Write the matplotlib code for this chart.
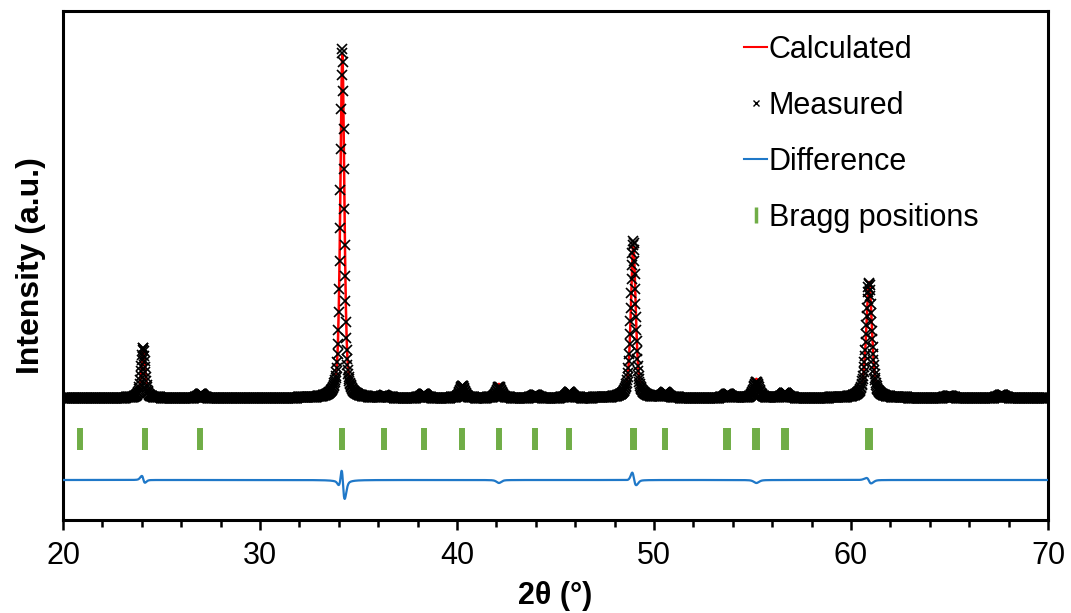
import numpy as np
import matplotlib
matplotlib.use("Agg")
import matplotlib.pyplot as plt
from matplotlib.lines import Line2D
from matplotlib.ticker import MultipleLocator

plt.rcParams['font.family'] = ['Liberation Sans', 'DejaVu Sans']

# ---- data (intensity in arbitrary units) ----
two_theta_range = (20.0, 70.0)
two_theta_step = 0.02

peak_pos = [24.08, 27.00, 34.18, 36.30, 38.32, 40.27, 42.13, 43.98, 45.70,
            48.95, 50.58, 53.75, 55.20, 56.65, 60.92, 65.00, 67.65]
peak_height_meas = [50, 4, 350, 2, 4, 12, 11, 3, 6,
                    157, 5, 4, 16, 5, 115, 2, 3]
peak_height_calc = [49, 4, 344, 2, 4, 12, 14, 3, 6,
                    152, 5, 4, 19, 5, 116, 2, 3]
peak_fwhm = [0.23, 0.28, 0.24, 0.28, 0.28, 0.28, 0.29, 0.30, 0.30,
             0.29, 0.32, 0.32, 0.32, 0.32, 0.34, 0.36, 0.36]
peak_shift_meas = [-0.012, 0.0, -0.005, 0.0, 0.0, 0.0, 0.0, 0.0, 0.0,
                   -0.007, 0.0, 0.0, 0.0, 0.0, -0.006, 0.0, 0.0]
peak_fwhm_meas = [0.23, 0.28, 0.225, 0.28, 0.28, 0.28, 0.29, 0.30, 0.30,
                  0.28, 0.32, 0.32, 0.32, 0.32, 0.34, 0.36, 0.36]

bragg_pos = [20.87, 24.16, 26.95, 34.14, 36.29, 38.32, 40.26, 42.15, 43.97,
             45.70, 48.92, 49.0, 50.57, 53.68, 53.78, 55.14, 55.24,
             56.61, 56.71, 60.88, 60.96]

diff_offset = -82
bragg_level = (-52, -30)
y_limits = (-122, 387)


def pseudo_voigt(x, pos, height, fwhm, eta=0.55):
    g = np.exp(-4 * np.log(2) * ((x - pos) / fwhm) ** 2)
    lo = 1.0 / (1 + 4 * ((x - pos) / fwhm) ** 2)
    return height * (eta * lo + (1 - eta) * g)


x = np.arange(two_theta_range[0], two_theta_range[1] + 1e-9, two_theta_step)
calc = np.zeros_like(x)
meas = np.zeros_like(x)
for p, hm, hc, w, s, wm in zip(peak_pos, peak_height_meas, peak_height_calc,
                               peak_fwhm, peak_shift_meas, peak_fwhm_meas):
    calc += pseudo_voigt(x, p, hc, w)
    meas += pseudo_voigt(x, p + s, hm, wm)
diff = meas - calc + diff_offset

fig = plt.figure(figsize=(10.71, 6.13), dpi=100)
ax = fig.add_axes([63 / 1071, 1 - 520 / 613, (1048 - 63) / 1071, (520 - 11) / 613])

ax.plot(x, calc, color='#ff0000', linewidth=1.8, zorder=2)
ax.plot(x, meas, linestyle='none', marker='x', color='black', markersize=7,
        markeredgewidth=1.2, zorder=3)
ax.plot(x, diff, color='#1f78c8', linewidth=1.6, zorder=3)
ax.vlines(bragg_pos, bragg_level[0], bragg_level[1], color='#70ad47',
          linewidth=4.3, zorder=3)

ax.set_xlim(*two_theta_range)
ax.set_ylim(*y_limits)
ax.set_yticks([])
ax.xaxis.set_major_locator(MultipleLocator(10))
ax.xaxis.set_minor_locator(MultipleLocator(2))
ax.tick_params(axis='x', which='major', direction='out', length=7, width=1.8,
               labelsize=22, pad=8)
ax.tick_params(axis='x', which='minor', direction='out', length=5, width=1.8)
for sp in ax.spines.values():
    sp.set_linewidth(2.2)

ax.set_xlabel('2θ (°)', fontsize=22, fontweight='bold', labelpad=7)
ax.set_ylabel('Intensity (a.u.)', fontsize=23, fontweight='bold', labelpad=12)

handles = [
    Line2D([], [], color='#ff0000', linewidth=1.5),
    Line2D([], [], linestyle='none', marker='x', color='black', markersize=4,
           markeredgewidth=1.0),
    Line2D([], [], color='#1f78c8', linewidth=1.5),
    Line2D([], [], linestyle='none', marker='|', color='#70ad47', markersize=12,
           markeredgewidth=2.5),
]
labels = ['Calculated', 'Measured', 'Difference', 'Bragg positions']
ax.legend(handles, labels, loc='upper left', bbox_to_anchor=(0.67, 0.995),
          frameon=False, fontsize=22, handlelength=0.75, handletextpad=0.05,
          labelspacing=0.85, borderaxespad=0.3)

fig.savefig('out.png', dpi=100)
